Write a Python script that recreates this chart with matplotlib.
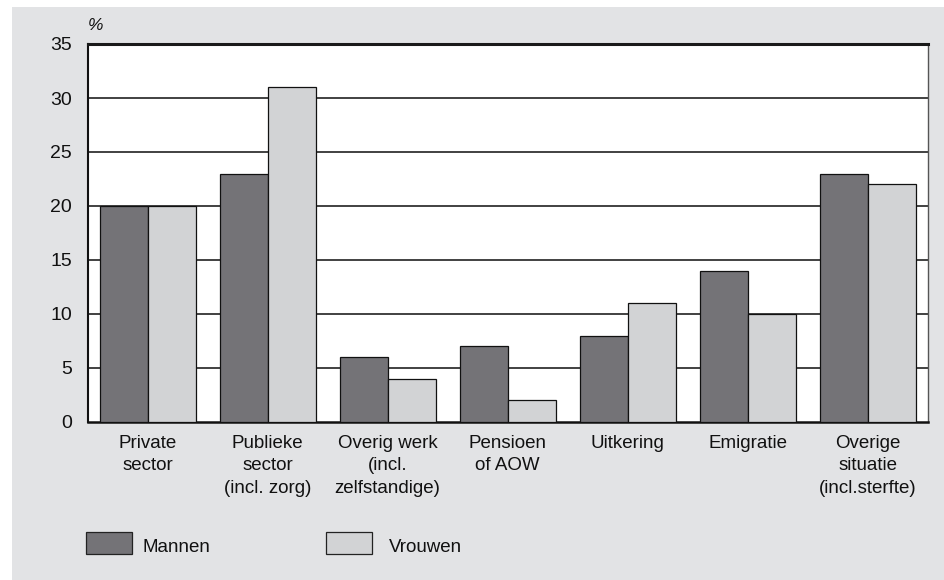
import matplotlib
matplotlib.use("Agg")
import matplotlib.pyplot as plt
import numpy as np
from matplotlib.patches import Rectangle

categories = ["Private\nsector", "Publieke\nsector\n(incl. zorg)", "Overig werk\n(incl.\nzelfstandige)",
              "Pensioen\nof AOW", "Uitkering", "Emigratie", "Overige\nsituatie\n(incl.sterfte)"]
mannen = [20, 23, 6, 7, 8, 14, 23]
vrouwen = [20, 31, 4, 2, 11, 10, 22]
series_names = ["Mannen", "Vrouwen"]
yticks = [0, 5, 10, 15, 20, 25, 30, 35]

plt.rcParams['font.family'] = ['Liberation Sans', 'DejaVu Sans']

W, H = 944, 580
fig = plt.figure(figsize=(W/100, H/100), dpi=100)
fig.patch.set_facecolor('white')
# gray panel
fig.add_artist(Rectangle((12/W, 0), 1 - 12/W, 1 - 7/H, transform=fig.transFigure,
                         facecolor='#e2e3e5', edgecolor='none', zorder=0))

left, right, top, bottom = 87.5, 928, 44, 422
ax = fig.add_axes([left/W, 1 - bottom/H, (right-left)/W, (bottom-top)/H])
ax.set_facecolor('white')

x = np.arange(len(categories))
bw = 0.4
c_m = '#747377'
c_v = '#d2d3d5'
ax.bar(x - bw/2, mannen, bw, color=c_m, edgecolor='#111111', linewidth=0.9, zorder=3)
ax.bar(x + bw/2, vrouwen, bw, color=c_v, edgecolor='#111111', linewidth=0.9, zorder=3)

ax.set_xlim(-0.5, len(categories) - 0.5)
ax.set_ylim(0, 35)
ax.set_yticks(yticks)
ax.set_yticklabels([str(t) for t in yticks], fontsize=14)
ax.set_xticks(x)
ax.set_xticklabels(categories, fontsize=13.5, linespacing=1.45)
ax.tick_params(axis='both', length=0, colors='#111111')
ax.tick_params(axis='y', pad=11)
ax.tick_params(axis='x', pad=9)
for t in yticks[1:-1]:
    ax.axhline(t, color='#333333', linewidth=1.3, zorder=1)

ax.spines['top'].set_linewidth(2.2)
ax.spines['top'].set_color('#1a1a1a')
ax.spines['left'].set_linewidth(1.5)
ax.spines['left'].set_color('#111111')
ax.spines['bottom'].set_linewidth(1.8)
ax.spines['bottom'].set_color('#111111')
ax.spines['right'].set_linewidth(1.0)
ax.spines['right'].set_color('#555555')

fig.text(88/W, 1 - 25/H, '%', fontsize=12.5, style='italic', va='center', ha='left', color='#111111')

# legend
def leg_patch(x0, color, label, tx):
    fig.add_artist(Rectangle((x0/W, 1 - 554/H), 46/W, 22/H, transform=fig.transFigure,
                             facecolor=color, edgecolor='#222222', linewidth=0.9, zorder=2))
    fig.text(tx/W, 1 - 548/H, label, fontsize=13.5, va='center', ha='left', color='#111111')

leg_patch(86, c_m, series_names[0], 142)
leg_patch(326, c_v, series_names[1], 389)

fig.savefig('out.png', dpi=100)
